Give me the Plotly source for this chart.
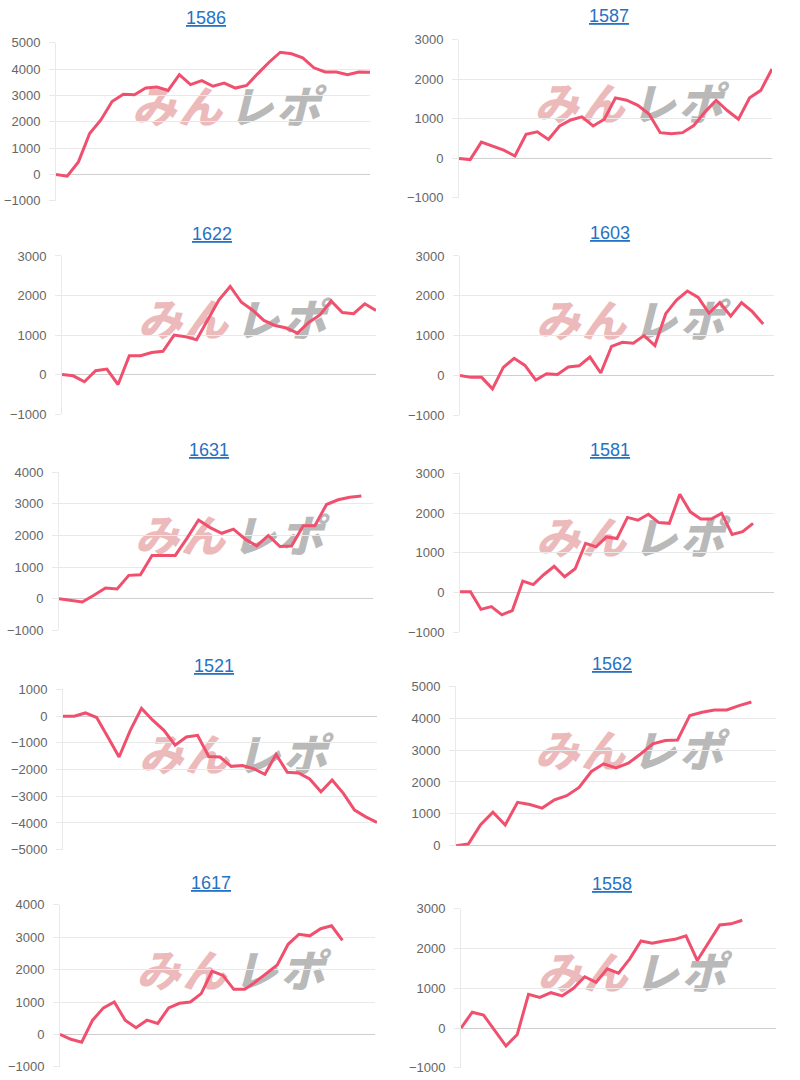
import plotly.graph_objects as go

# ---------------- data ----------------
titles = ["1586", "1587", "1622", "1603", "1631", "1581", "1521", "1562", "1617", "1558"]

s1586 = [0, -60, 480, 1560, 2070, 2770, 3050, 3030, 3280, 3320, 3190, 3790, 3410, 3560, 3350,
         3470, 3280, 3380, 3830, 4260, 4640, 4580, 4430, 4050, 3890, 3890, 3790, 3890, 3880]
s1587 = [0, -30, 410, 300, 210, 60, 610, 670, 480, 820, 970, 1050, 820, 990, 1530,
         1470, 1340, 1120, 650, 620, 650, 830, 1170, 1470, 1210, 990, 1530, 1720, 2260]
s1622 = [0, -30, -180, 100, 140, -250, 480, 480, 560, 590, 1000, 960, 880, 1400, 1890,
         2230, 1830, 1630, 1370, 1240, 1180, 1050, 1320, 1510, 1860, 1570, 1540, 1790, 1620]
s1603 = [0, -50, -50, -340, 200, 430, 250, -120, 40, 20, 210, 240, 460, 60, 730,
         830, 810, 1000, 750, 1550, 1890, 2120, 1960, 1560, 1830, 1490, 1830, 1600, 1290, None]
s1631 = [0, -40, -100, 110, 340, 310, 740, 760, 1370, 1370, 1370, 1910, 2490, 2250,
         2070, 2200, 1890, 1670, 2000, 1650, 1670, 2310, 2310, 2980, 3130, 3210, 3250, None]
s1581 = [20, 20, -420, -350, -560, -450, 290, 200, 450, 660, 400, 600, 1240, 1150, 1400,
         1360, 1890, 1820, 1970, 1760, 1740, 2470, 2030, 1850, 1850, 1990, 1460, 1530, 1740,
         None, None]
s1521 = [0, 0, 120, -50, -780, -1530, -530, 290, -150, -530, -1090, -780, -720, -1510, -1530,
         -1880, -1850, -1970, -2180, -1430, -2100, -2130, -2350, -2830, -2390, -2890, -3520,
         -3770, -3980]
s1562 = [0, 50, 660, 1050, 650, 1360, 1290, 1180, 1440, 1570, 1830, 2330, 2570, 2440, 2590,
         2880, 3200, 3300, 3320, 4090, 4190, 4260, 4260, 4400, 4510, None, None]
s1617 = [0, -150, -240, 440, 820, 1000, 440, 210, 440, 340, 820, 960, 1000, 1260, 1950,
         1820, 1390, 1390, 1620, 1880, 2140, 2780, 3090, 3040, 3260, 3350, 2900, None, None, None]
s1558 = [0, 400, 330, -60, -450, -160, 850, 770, 890, 810, 1000, 1290, 1150, 1490, 1380,
         1740, 2190, 2130, 2190, 2230, 2320, 1700, 2160, 2590, 2620, 2710, None, None, None]

series = [s1586, s1587, s1622, s1603, s1631, s1581, s1521, s1562, s1617, s1558]
y_ranges = [(-1000, 5000), (-1000, 3000), (-1000, 3000), (-1000, 3000), (-1000, 4000),
            (-1000, 3000), (-5000, 1000), (0, 5000), (-1000, 4000), (-1000, 3000)]
watermark_chars = ["み", "ん", "レ", "ポ"]

# ---------------- layout geometry (pixels) ----------------
W, H = 800, 1080


def py(y):
    # pixel row -> layout row (compensates observed vertical offset of the render)
    return (y - 7.3) / 0.985


boxes = [(56, 370, 43, 201), (459, 772, 40, 198),
         (62, 376, 256, 414), (460, 774, 256, 415),
         (59, 373, 472, 630), (460, 774, 473, 632),
         (63, 377, 689, 849), (456, 776, 686, 845),
         (60, 375, 904, 1066), (461, 776, 908, 1067)]
title_pos = [(206, 18), (609, 16), (212, 234), (610, 233), (209, 450),
             (610, 450), (214, 666), (612, 664), (211, 882), (612, 883)]
wm_dx = [-72, -26, 25, 72]
wm_col = ["#ecbaba", "#ecbaba", "#b9b9b9", "#b9b9b9"]

LINE = "#f0506e"
GRID = "#e9e9e9"
ZERO = "#cfcfcf"
TICKFONT = dict(family="Arial, Liberation Sans, sans-serif", size=13, color="#666666")

fig = go.Figure()
annotations = []
shapes = []

for i, (vals, (x0, x1, yt, yb)) in enumerate(zip(series, boxes)):
    n = len(vals)
    xa = "x" if i == 0 else f"x{i+1}"
    ya = "y" if i == 0 else f"y{i+1}"
    fig.add_trace(go.Scatter(
        x=list(range(n)), y=vals, mode="lines",
        line=dict(color=LINE, width=3), xaxis=xa, yaxis=ya,
        showlegend=False, hoverinfo="skip", connectgaps=False,
    ))
    xkey = "xaxis" if i == 0 else f"xaxis{i+1}"
    ykey = "yaxis" if i == 0 else f"yaxis{i+1}"
    fig.update_layout(**{
        xkey: dict(domain=[x0 / W, x1 / W], range=[0, n - 1], anchor=ya,
                   showgrid=False, zeroline=False, showticklabels=False,
                   showline=False, fixedrange=True),
        ykey: dict(domain=[1 - py(yb) / H, 1 - py(yt) / H], range=list(y_ranges[i]),
                   anchor=xa, dtick=1000, tick0=0, showgrid=True, gridcolor=GRID,
                   gridwidth=1, zeroline=True, zerolinecolor=ZERO, zerolinewidth=1,
                   showline=True, linecolor=GRID, linewidth=1,
                   ticks="outside", ticklen=6, tickcolor=GRID,
                   ticklabelstandoff=6, tickfont=TICKFONT, fixedrange=True),
    })
    # title link
    tx, ty = title_pos[i]
    annotations.append(dict(
        text=f"<u>{titles[i]}</u>", x=tx / W, y=1 - py(ty) / H, xref="paper", yref="paper",
        xanchor="center", yanchor="middle", showarrow=False,
        font=dict(family="Arial, Liberation Sans, sans-serif", size=18, color="#2672c4"),
    ))
    # watermark (behind the line)
    cx = (x0 + x1) / 2 + 13
    cy = (yt + yb) / 2 - 11
    for ch, dx, col in zip(watermark_chars, wm_dx, wm_col):
        shapes.append(dict(
            type="rect", xref="paper", yref="paper", layer="below",
            x0=(cx + dx - 24) / W, x1=(cx + dx + 24) / W,
            y0=1 - py(cy + 18) / H, y1=1 - py(cy - 18) / H,
            line=dict(width=0), fillcolor="rgba(0,0,0,0)",
            label=dict(text=ch, textposition="middle center",
                       font=dict(family="Noto Sans CJK JP", size=44, color=col,
                                 weight=900, style="italic")),
        ))

fig.update_layout(
    width=W, height=H, margin=dict(l=0, r=0, t=0, b=0),
    paper_bgcolor="white", plot_bgcolor="rgba(0,0,0,0)",
    annotations=annotations, shapes=shapes, showlegend=False,
)

fig.write_html("out.html", config={"displayModeBar": False})
